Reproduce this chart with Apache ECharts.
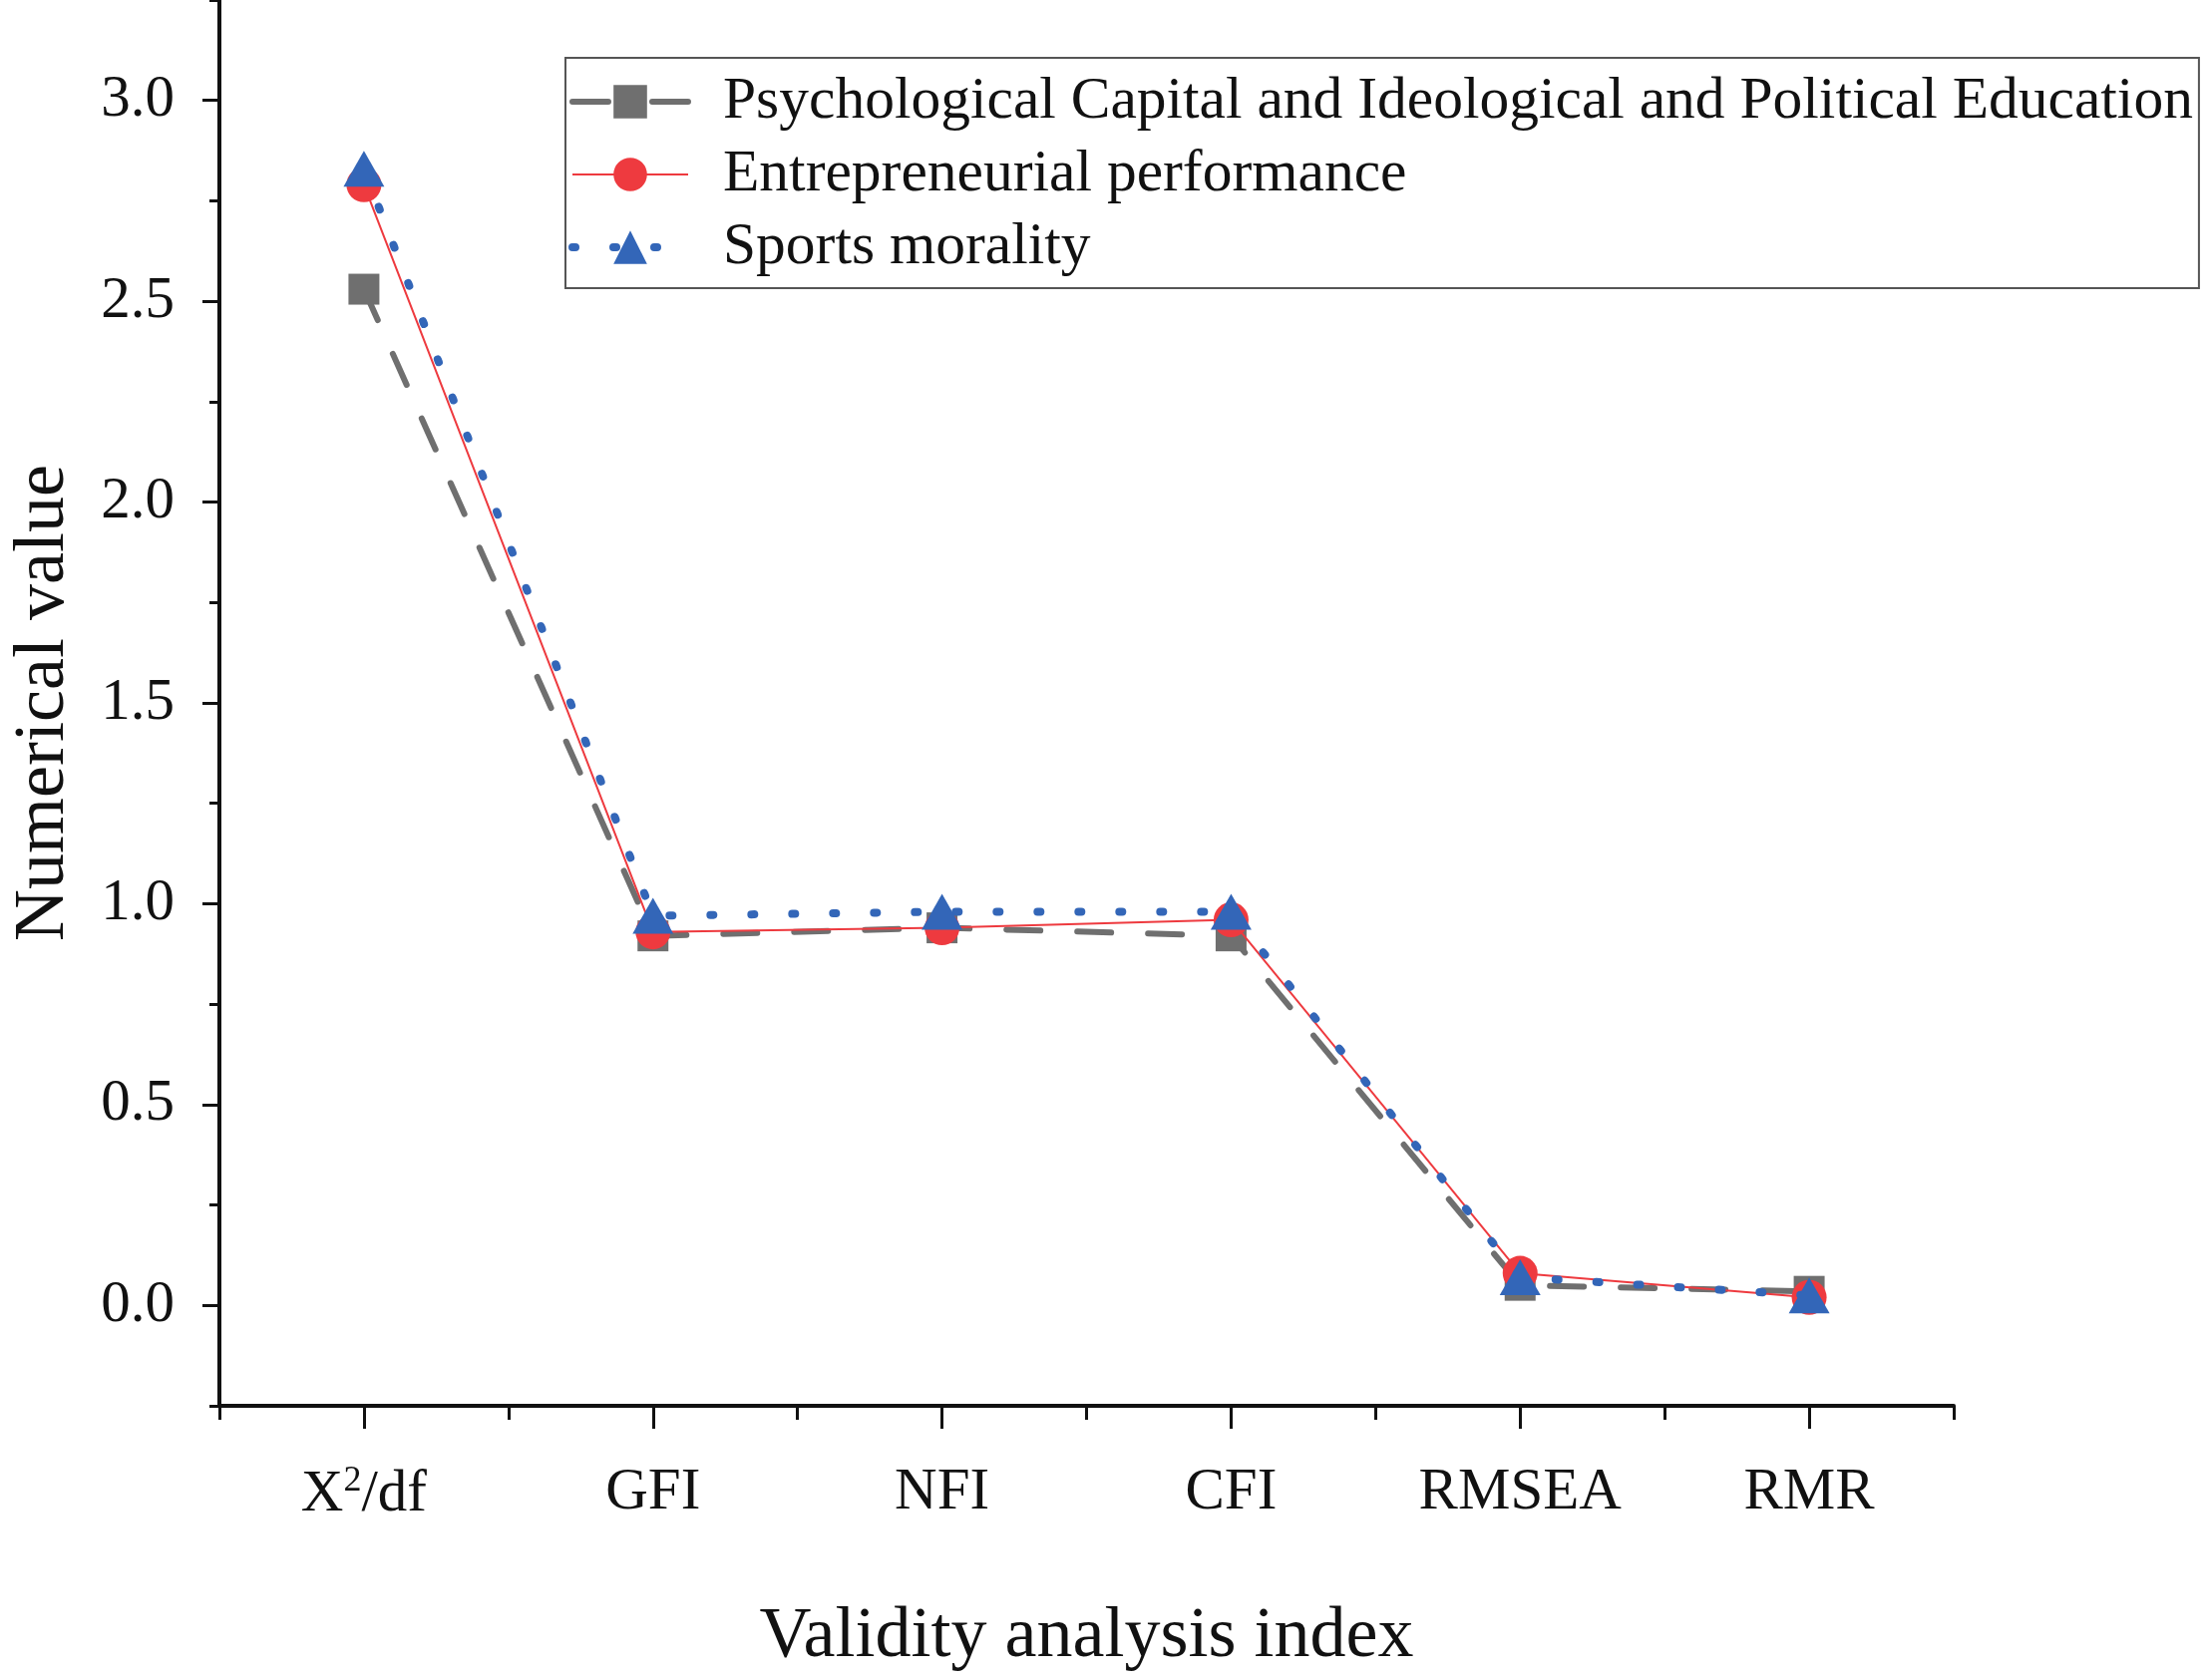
<!DOCTYPE html>
<html>
<head>
<meta charset="utf-8">
<script src="https://cdn.jsdelivr.net/npm/echarts@6/dist/echarts.min.js"></script>
<style>
html,body{margin:0;padding:0;background:#fff;}
#chart{width:2218px;height:1685px;}
</style>
</head>
<body>
<div id="chart"></div>
<script>
const categories = ['X2/df', 'GFI', 'NFI', 'CFI', 'RMSEA', 'RMR'];
const seriesNames = [
  'Psychological Capital and Ideological and Political Education',
  'Entrepreneurial performance',
  'Sports morality'
];
const psychCapital = [2.53, 0.92, 0.94, 0.92, 0.05, 0.035];
const entrepreneurial = [2.79, 0.93, 0.94, 0.96, 0.08, 0.02];
const sportsMorality = [2.83, 0.97, 0.98, 0.98, 0.07, 0.025];
const yMajorTicks = [0, 0.5, 1.0, 1.5, 2.0, 2.5, 3.0];

const FONT = '"Liberation Serif", "Times New Roman", serif';
const GRAY = '#6f6f6f', RED = '#ee3a3f', BLUE = '#3366b8';
const chart = echarts.init(document.getElementById('chart'), null, {renderer: 'canvas'});

const option = {
  backgroundColor: '#fff',
  animation: false,
  grid: {left: 215, right: 259, top: 0, bottom: 275, containLabel: false},
  legend: {
    orient: 'vertical',
    left: 567,
    top: 58,
    padding: [14, 6, 11, 3],
    borderColor: '#555',
    borderWidth: 2,
    itemWidth: 116,
    itemHeight: 42,
    itemGap: 13,
    data: [
      {name: seriesNames[0], lineStyle: {color: GRAY, width: 6, type: [36, 44], cap: 'round'}},
      {name: seriesNames[1], lineStyle: {color: RED, width: 2, type: 'solid'}},
      {name: seriesNames[2], lineStyle: {color: BLUE, width: 8, type: [3, 38], cap: 'round'}}
    ],
    textStyle: {fontFamily: FONT, fontSize: 59.5, color: '#111', lineHeight: 60, padding: [0, 0, 0, 30]}
  },
  xAxis: [
    {
      type: 'category',
      data: categories,
      boundaryGap: true,
      axisLine: {show: true, onZero: false, lineStyle: {color: '#111', width: 4}},
      axisTick: {show: true, length: 14, lineStyle: {color: '#111', width: 3}},
      axisLabel: {
        interval: 0,
        margin: 58,
        color: '#111',
        fontFamily: FONT,
        fontSize: 59,
        formatter: function (v) {
          if (v === 'X2/df') return '{a|X}{s|2}{a|/df}';
          return '{a|' + v + '}';
        },
        rich: {
          a: {fontFamily: FONT, fontSize: 59, color: '#111'},
          s: {fontFamily: FONT, fontSize: 36, color: '#111', padding: [0, 0, 26, 0]}
        }
      },
      splitLine: {show: false},
      name: 'Validity analysis index',
      nameLocation: 'middle',
      nameGap: 196,
      nameTextStyle: {fontFamily: FONT, fontSize: 72, color: '#111'}
    },
    {
      type: 'category',
      data: categories,
      position: 'bottom',
      boundaryGap: true,
      axisLine: {show: false, onZero: false},
      axisTick: {show: true, alignWithLabel: true, interval: 0, length: 23, lineStyle: {color: '#111', width: 3}},
      axisLabel: {show: false},
      splitLine: {show: false}
    }
  ],
  yAxis: [
    {
      type: 'value',
      min: -0.25,
      max: 3.25,
      axisLine: {show: true, onZero: false, lineStyle: {color: '#111', width: 4}},
      axisTick: {show: true, length: 17, customValues: yMajorTicks, lineStyle: {color: '#111', width: 3}},
      axisLabel: {
        customValues: yMajorTicks,
        margin: 45,
        color: '#111',
        fontFamily: FONT,
        fontSize: 59,
        formatter: function (v) { return v.toFixed(1); }
      },
      splitLine: {show: false},
      name: 'Numerical value',
      nameLocation: 'middle',
      nameGap: 140,
      nameTextStyle: {fontFamily: FONT, fontSize: 72, color: '#111'}
    },
    {
      type: 'value',
      min: -0.25,
      max: 3.25,
      interval: 0.25,
      position: 'left',
      axisLine: {show: false, onZero: false},
      axisTick: {show: true, length: 10, lineStyle: {color: '#111', width: 3}},
      axisLabel: {show: false},
      splitLine: {show: false}
    }
  ],
  series: [
    {
      name: seriesNames[0],
      type: 'line',
      data: psychCapital,
      symbol: 'rect',
      symbolSize: 31,
      itemStyle: {color: GRAY},
      lineStyle: {color: GRAY, width: 6, type: [34, 37], cap: 'round'},
      z: 2
    },
    {
      name: seriesNames[1],
      type: 'line',
      data: entrepreneurial,
      symbol: 'circle',
      symbolSize: 35,
      itemStyle: {color: RED},
      lineStyle: {color: RED, width: 2},
      z: 3
    },
    {
      name: seriesNames[2],
      type: 'line',
      data: sportsMorality,
      symbol: 'triangle',
      symbolSize: [41, 36],
      itemStyle: {color: BLUE},
      lineStyle: {color: BLUE, width: 8, type: [3, 38], cap: 'round'},
      z: 4
    }
  ]
};
chart.setOption(option);
</script>
</body>
</html>
